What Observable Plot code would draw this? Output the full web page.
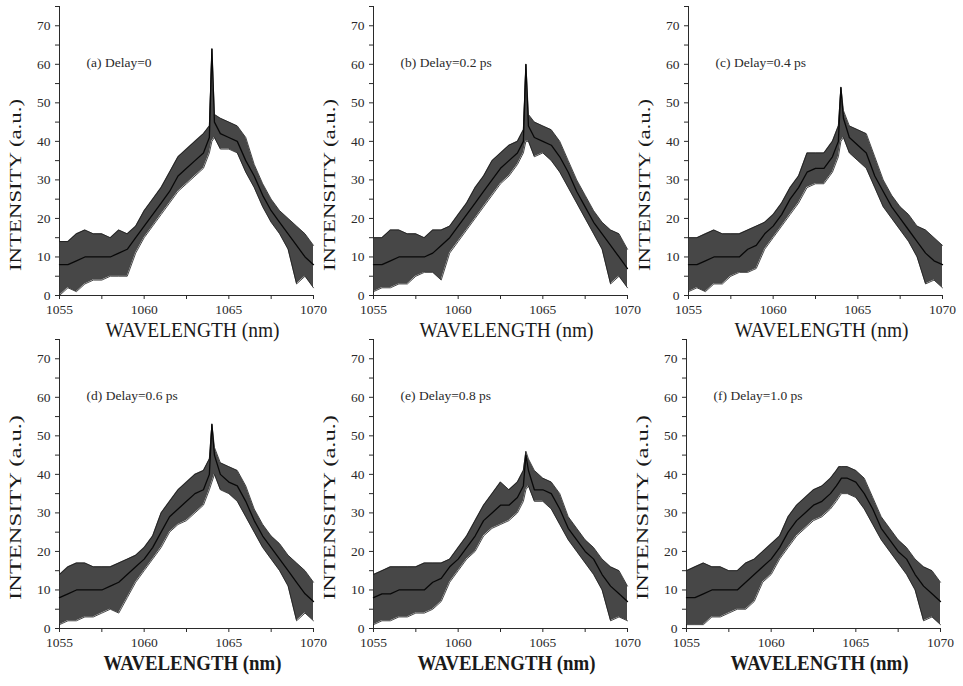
<!DOCTYPE html>
<html>
<head>
<meta charset="utf-8">
<script src="https://cdn.jsdelivr.net/npm/d3@7"></script>
<script src="https://cdn.jsdelivr.net/npm/@observablehq/plot@0.6"></script>
<style>
  html, body { margin: 0; padding: 0; background: #ffffff; }
  #fig { position: relative; width: 963px; height: 686px; overflow: hidden; background: #ffffff; }
  .panel { position: absolute; }
  .panel svg { overflow: visible; }
</style>
</head>
<body>
<div id="fig"></div>
<script>
// ---- data ----
const wavelength = [1055,1055.5,1056,1056.5,1057,1057.5,1058,1058.5,1059,1059.5,1060,1060.5,1061,1061.5,1062,1062.5,1063,1063.5,1063.85,1064,1064.15,1064.5,1065,1065.5,1066,1066.5,1067,1067.5,1068,1068.5,1069,1069.5,1070];

const panelLabels = ["(a) Delay=0", "(b) Delay=0.2 ps", "(c) Delay=0.4 ps", "(d) Delay=0.6 ps", "(e) Delay=0.8 ps", "(f) Delay=1.0 ps"];

const aMid = [8,8,9,10,10,10,10,11,12,15,18,21,24,27,31,33,35,37,41,64,45,42,41,40,35,31,26,22,19,16,13,10,8];
const aLo  = [0,2,1,3,4,4,5,5,5,11,15,18,21,24,27,29,31,33,37,40,41,38,38,37,32,28,23,19,16,12,3,5,2];
const aHi  = [14,14,16,17,16,16,15,17,16,18,22,25,28,32,36,38,40,42,44,64,47,46,45,44,41,34,29,25,22,20,18,16,13];

const bMid = [8,8,9,10,10,10,10,11,13,15,18,21,24,27,30,33,35,37,40,60,44,41,40,39,36,32,27,23,19,16,13,10,7];
const bLo  = [1,2,2,3,3,5,6,6,4,11,14,17,20,23,26,29,31,34,37,40,40,36,37,35,32,28,24,20,16,12,3,5,2];
const bHi  = [15,15,17,17,16,16,15,17,17,18,21,24,28,31,35,37,39,40,43,60,47,45,44,43,40,35,30,26,22,19,17,16,12];

const cMid = [8,8,9,10,10,10,10,12,13,16,18,21,25,28,32,33,33,36,40,54,46,41,39,37,31,27,23,20,17,14,11,9,8];
const cLo  = [1,2,1,3,3,5,6,6,7,12,15,18,21,24,28,29,29,32,36,40,41,37,35,33,28,23,20,17,14,10,3,4,2];
const cHi  = [15,15,16,17,16,16,16,17,18,19,21,24,28,31,37,37,37,40,44,54,48,44,43,42,36,30,26,23,21,18,17,15,13];

const dMid = [8,9,10,10,10,10,11,12,14,16,18,21,25,29,31,33,35,36,40,53,45,40,38,37,33,28,24,21,18,15,12,9,7];
const dLo  = [1,2,2,3,3,4,5,4,8,12,15,18,21,25,27,28,30,32,36,38,40,36,35,33,29,25,21,18,15,11,2,4,2];
const dHi  = [14,16,17,17,16,16,16,17,18,19,21,24,30,33,36,38,40,41,44,53,47,43,42,41,37,31,27,24,22,19,17,15,12];

const eMid = [8,9,9,10,10,10,10,12,13,16,18,21,24,28,30,32,32,34,37,45,41,36,36,35,31,26,23,20,18,14,11,9,7];
const eLo  = [1,2,2,3,3,4,4,5,7,12,15,18,20,24,26,27,28,30,33,36,37,33,33,31,27,23,20,17,14,10,2,3,2];
const eHi  = [14,15,16,16,16,16,17,17,17,18,21,24,28,32,35,38,36,38,41,46,44,41,39,38,35,29,26,23,21,18,16,15,11];

const fMid = [8,8,9,10,10,10,10,12,14,16,18,21,25,28,30,32,33,35,37,38,39,39,38,35,31,26,23,20,18,14,11,9,7];
const fLo  = [1,1,1,3,3,4,5,5,7,12,14,18,21,24,26,28,29,31,33,34,35,35,34,31,27,23,20,17,14,10,2,3,1];
const fHi  = [15,16,17,16,16,15,15,17,18,20,22,24,29,32,34,36,37,39,41,42,42,42,41,39,34,29,26,23,21,18,16,15,12];

const xMajor = [1055, 1060, 1065, 1070];
const xMinor = [1057.5, 1062.5, 1067.5];
const yMajor = [0, 10, 20, 30, 40, 50, 60, 70];
const yMinor = [5, 15, 25, 35, 45, 55, 65, 75];

const xTitle = "WAVELENGTH (nm)";
const yTitle = "INTENSITY (a.u.)";

// ---- layout ----
const series = [
  {mid: aMid, lo: aLo, hi: aHi, left: 0,   top: 0,   row: 0},
  {mid: bMid, lo: bLo, hi: bHi, left: 314, top: 0,   row: 0},
  {mid: cMid, lo: cLo, hi: cHi, left: 629, top: 0,   row: 0},
  {mid: dMid, lo: dLo, hi: dHi, left: 0,   top: 333, row: 1},
  {mid: eMid, lo: eLo, hi: eHi, left: 314, top: 333, row: 1},
  {mid: fMid, lo: fLo, hi: fHi, left: 627, top: 333, row: 1}
];

const fig = document.getElementById("fig");

series.forEach((s, k) => {
  const table = wavelength.map((w, i) => ({w, lo: s.lo[i], mid: s.mid[i], hi: s.hi[i]}));
  const chart = Plot.plot({
    width: 334,
    height: 350,
    marginLeft: 59,
    marginRight: 21,
    marginTop: 6,
    marginBottom: 55,
    style: {fontFamily: "'Liberation Serif', 'DejaVu Serif', serif", fontSize: "13.5px", color: "#2a2a2a", background: "transparent", overflow: "visible"},
    x: {domain: [1055, 1070], ticks: xMajor.concat(xMinor), tickFormat: d => xMajor.includes(d) ? String(d) : "", tickSize: 4, label: null, line: true},
    y: {domain: [0, 75], ticks: yMajor.concat(yMinor), tickFormat: d => yMajor.includes(d) ? String(d) : "", tickSize: 4, label: null, line: true},
    marks: [
      Plot.areaY(table, {x: "w", y1: "lo", y2: "hi", fill: "#333333", fillOpacity: 0.9, curve: "linear"}),
      Plot.lineY(table, {x: "w", y: "lo", stroke: "#1a1a1a", strokeWidth: 0.8}),
      Plot.lineY(table, {x: "w", y: "hi", stroke: "#1a1a1a", strokeWidth: 0.8}),
      Plot.lineY(table, {x: "w", y: "mid", stroke: "#080808", strokeWidth: 1.3}),
      Plot.text([panelLabels[k]], {x: 1056.6, y: 60.5, text: d => d, textAnchor: "start", fontSize: 13.5, fill: "#2a2a2a"}),
      Plot.text([xTitle], {frameAnchor: "bottom", dx: 6, dy: 41, text: d => d, fontSize: 20, fill: "#1a1a1a", fontWeight: s.row === 1 ? "bold" : "normal"}),
      Plot.text([yTitle], {frameAnchor: "left", rotate: -90, textAnchor: "start", dx: -44, dy: s.row === 1 ? 116 : 120, text: d => d, fontSize: 17, fill: "#1a1a1a"})
    ]
  });
  // stretch titles like the scanned figure
  d3.select(chart).selectAll("text").each(function() {
    const t = this.textContent;
    if (t === xTitle) {
      this.setAttribute("textLength", s.row === 1 ? 178 : 174);
      this.setAttribute("lengthAdjust", "spacingAndGlyphs");
    } else if (t === yTitle) {
      this.setAttribute("textLength", s.row === 1 ? 185 : 172);
      this.setAttribute("lengthAdjust", "spacingAndGlyphs");
    }
  });
  const div = document.createElement("div");
  div.className = "panel";
  div.style.left = s.left + "px";
  div.style.top = s.top + "px";
  div.appendChild(chart);
  fig.appendChild(div);
});
</script>
</body>
</html>
